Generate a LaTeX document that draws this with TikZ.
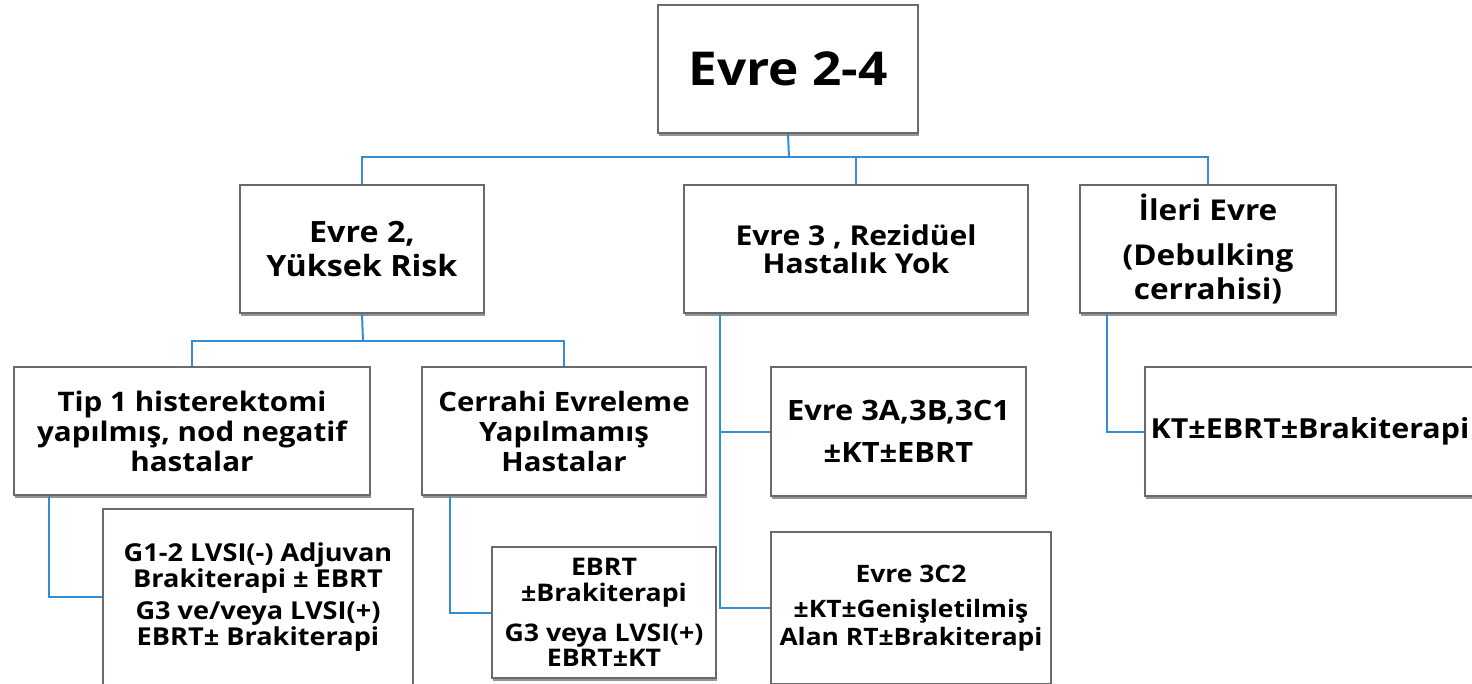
\documentclass[tikz,border=0pt]{standalone}
\usepackage{fontspec}
\setmainfont{Open Sans}[FakeStretch=1.1]
\usetikzlibrary{shadows}
\definecolor{boxline}{RGB}{105,105,112}
\definecolor{connblue}{RGB}{52,140,210}
\tikzset{
  px/.style 2 args={minimum width=#1*0.75pt, minimum height=#2*0.75pt},
  box/.style={draw=boxline, line width=1.8pt, fill=white, align=center,
    inner sep=0pt, font=\bfseries,
    drop shadow={shadow xshift=0.6pt, shadow yshift=-2.4pt, fill=black!60, opacity=0.7}},
  conn/.style={draw=connblue, line width=1.5pt}
}
\begin{document}
\begin{tikzpicture}[x=0.75pt, y=-0.75pt]
\useasboundingbox (0,0) rectangle (1472,683);
\begin{scope}
\clip (0,0) rectangle (1472,683);
% level 0
\node[box, px={260}{128}, font=\bfseries\fontsize{35}{40}\selectfont] (top) at (788,69) {Evre 2-4};
% level 1
\node[box, px={244}{128}, font=\bfseries\fontsize{22}{25.5}\selectfont] (ev2) at (362,249) {Evre 2,\\Yüksek Risk};
\node[box, px={344}{128}, font=\bfseries\fontsize{20.5}{21}\selectfont] (ev3) at (856,249) {Evre 3 , Rezidüel\\Hastalık Yok};
\node[box, px={256}{128}, font=\bfseries\fontsize{21.5}{25.5}\selectfont] (ileri) at (1208,249) {İleri Evre\\[8pt](Debulking\\cerrahisi)};
% level 2
\node[box, px={356}{128}, font=\bfseries\fontsize{20.2}{22.5}\selectfont] (tip1) at (192,431) {Tip 1 histerektomi\\yapılmış, nod negatif\\hastalar};
\node[box, px={284}{128}, font=\bfseries\fontsize{20}{22.5}\selectfont] (cerr) at (564,431) {Cerrahi Evreleme\\Yapılmamış\\Hastalar};
\node[box, px={255}{129}, font=\bfseries\fontsize{21}{22}\selectfont] (e3a) at (898.5,431.5) {Evre 3A,3B,3C1\\[9pt]±KT±EBRT};
\node[box, px={330}{129}, font=\bfseries\fontsize{20.7}{22}\selectfont] (kt) at (1310,431.5) {KT±EBRT±Brakiterapi};
% level 3
\node[box, px={310}{176}, font=\bfseries\fontsize{18.5}{19.5}\selectfont] (g12) at (258,597) {G1-2 LVSI(-) Adjuvan\\Brakiterapi ± EBRT\\[5pt]G3 ve/veya LVSI(+)\\EBRT± Brakiterapi};
\node[box, px={224}{131}, font=\bfseries\fontsize{18.2}{19}\selectfont] (ebrt) at (604,612.5) {EBRT\\±Brakiterapi\\[11pt]G3 veya LVSI(+)\\EBRT±KT};
\node[box, px={280}{152}, font=\bfseries\fontsize{18}{20.5}\selectfont] (e3c2) at (911,608) {Evre 3C2\\[6pt]±KT±Genişletilmiş\\Alan RT±Brakiterapi};
% connectors
\coordinate (bus1) at (789,157);
\coordinate (bus2) at (363,341);
\draw[conn] (top.south) -- (bus1);
\draw[conn] (ev2.north) |- (bus1) -| (ileri.north);
\draw[conn] (ev3.north) -- (ev3.north |- bus1);
\draw[conn] (ev2.south) -- (bus2);
\draw[conn] (tip1.north) |- (bus2) -| (cerr.north);
\coordinate (t1x) at ([xshift=36*0.75pt]tip1.south west);
\draw[conn] (t1x) |- (g12.west);
\coordinate (crx) at ([xshift=29*0.75pt]cerr.south west);
\draw[conn] (crx) |- (ebrt.west);
\coordinate (e3x) at ([xshift=37*0.75pt]ev3.south west);
\draw[conn] (e3x) |- (e3c2.west);
\draw[conn] (e3a.west) -- (e3a.west -| e3x);
\coordinate (ilx) at ([xshift=28*0.75pt]ileri.south west);
\draw[conn] (ilx) |- (kt.west);
\end{scope}
\end{tikzpicture}
\end{document}
